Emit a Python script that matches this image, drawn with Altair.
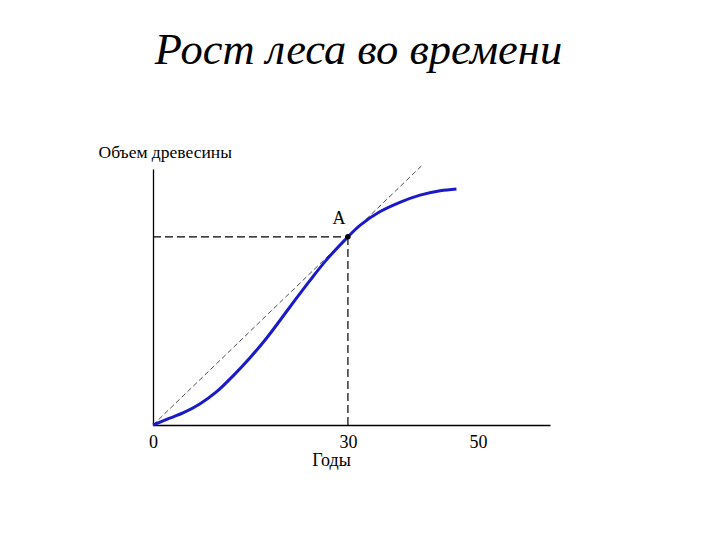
import altair as alt
import pandas as pd

# growth curve (years, volume)
years = [0, 2.1, 4.7, 7.2, 9.8, 12.4, 14.9, 17.5, 21.1, 24.2, 26.7, 30.0,
         31.9, 34.9, 38.0, 41.1, 44.2, 46.7]
volume = [0, 2.2, 4.8, 8.2, 13.0, 19.4, 26.2, 34.0, 46.2, 56.6, 64.5, 73.5,
          78.1, 83.3, 87.0, 89.8, 91.5, 92.2]

# tangent ray from origin through A
tan_x = [0, 41.6]
tan_y = [0, 101.9]

# point A
a_x = 30
a_y = 73.5

x_ticks = [0, 30, 50]
x_max = 61.1
y_max = 100

FONT = "Liberation Serif"

curve_df = pd.DataFrame({"t": years, "v": volume})
tan_df = pd.DataFrame({"t": tan_x, "v": tan_y})
a_df = pd.DataFrame({"t": [a_x], "v": [a_y], "t0": [0], "v0": [0], "label": ["A"]})

xs = alt.Scale(domain=[0, x_max], nice=False, zero=False)
ys = alt.Scale(domain=[0, y_max], nice=False)

base_x = alt.X("t:Q", scale=xs, axis=alt.Axis(
    values=x_ticks, ticks=False, grid=False, domainColor="black", domainWidth=1.3,
    labelFont=FONT, labelFontSize=18, labelColor="black", labelPadding=8,
    labelFlush=False,
    title="Годы", titleFont=FONT, titleFontSize=18, titleFontWeight="normal",
    titleColor="black", titleX=178, titleY=40, titleBaseline="alphabetic",
    titleAlign="center"))
base_y = alt.Y("v:Q", scale=ys, axis=alt.Axis(
    labels=False, ticks=False, grid=False, domainColor="black", domainWidth=1.3,
    title="Объем древесины", titleFont=FONT, titleFontSize=17.5,
    titleFontWeight="normal", titleColor="black", titleAngle=0,
    titleAlign="left", titleBaseline="alphabetic", titleX=-55, titleY=-12))

tangent = alt.Chart(tan_df).mark_line(
    color="#222222", strokeWidth=0.8, strokeDash=[5, 3]
).encode(x=base_x, y=base_y)

hline = alt.Chart(a_df).mark_rule(
    color="black", strokeWidth=1.2, strokeDash=[8, 4]
).encode(x="t0:Q", x2="t:Q", y="v:Q")

vline = alt.Chart(a_df).mark_rule(
    color="black", strokeWidth=1.2, strokeDash=[8, 4]
).encode(x="t:Q", y="v0:Q", y2="v:Q")

curve = alt.Chart(curve_df).mark_line(
    color="#1a1ac8", strokeWidth=3, interpolate="catmull-rom"
).encode(x="t:Q", y="v:Q")

pt = alt.Chart(a_df).mark_point(
    filled=True, color="black", size=30, opacity=1
).encode(x="t:Q", y="v:Q")

lbl = alt.Chart(a_df).mark_text(
    font=FONT, fontSize=18, color="black", dx=-9, dy=-13,
    baseline="alphabetic", align="center"
).encode(x="t:Q", y="v:Q", text="label:N")

chart = alt.layer(tangent, hline, vline, curve, pt, lbl).properties(
    width=397, height=256,
    background="white",
    title=alt.TitleParams(
        "Рост леса во времени", font=FONT, fontSize=44.5, fontStyle="italic",
        fontWeight="normal", color="black", anchor="middle", frame="group",
        baseline="alphabetic", offset=35, dx=7),
    autosize=alt.AutoSizeParams(type="none"),
    padding={"left": 145, "top": 161, "right": 20, "bottom": 80},
).configure_view(stroke="transparent", strokeWidth=0)

chart.save("out.html", embed_options={"renderer": "svg", "actions": False})
